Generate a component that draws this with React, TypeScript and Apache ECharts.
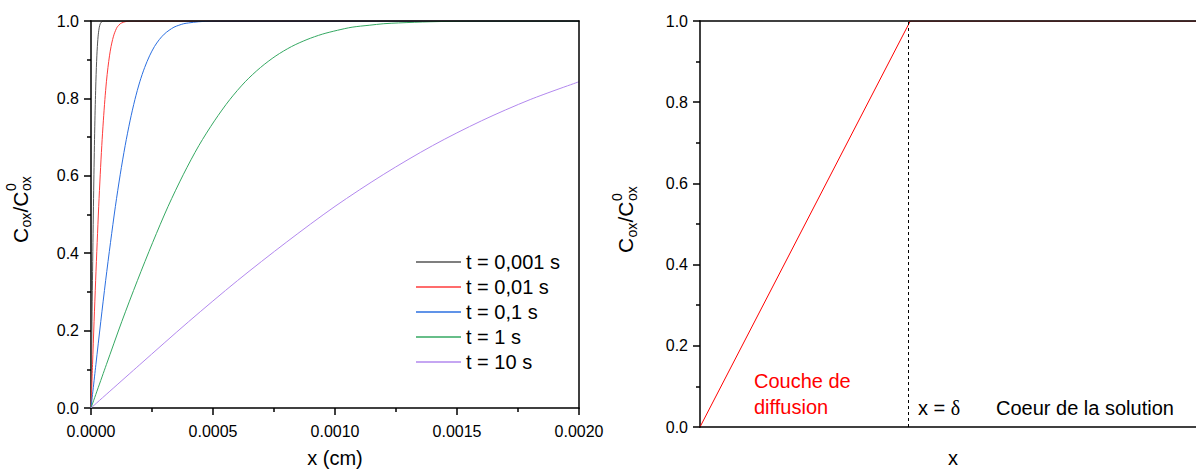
import { useEffect, useRef } from "react";
import * as echarts from "echarts";

const FONT = "'Liberation Sans', Arial, sans-serif";

// ---- Left chart: concentration profiles at several times ----
const legendNames = ["t = 0,001 s", "t = 0,01 s", "t = 0,1 s", "t = 1 s", "t = 10 s"];
const seriesColors = ["#555555", "#ff3b3b", "#2b6fe0", "#35a862", "#b288ee"];

const xT0001 = [0, 0.000002, 0.000004, 0.000006, 0.000008, 0.00001, 0.000012, 0.000014, 0.000016, 0.000018, 0.00002, 0.000022, 0.000024, 0.000026, 0.000028, 0.00003, 0.000032, 0.000034, 0.000036, 0.000038, 0.00004, 0.000044, 0.00005, 0.00006, 0.002];
const yT0001 = [0, 0.112, 0.223, 0.329, 0.428, 0.521, 0.604, 0.678, 0.742, 0.797, 0.843, 0.88, 0.91, 0.934, 0.952, 0.966, 0.976, 0.984, 0.989, 0.993, 0.995, 0.998, 1.0, 1.0, 1.0];

const xT001 = [0, 0.0000063, 0.0000126, 0.000019, 0.0000253, 0.0000316, 0.0000379, 0.0000442, 0.0000506, 0.0000569, 0.0000632, 0.0000695, 0.0000758, 0.0000822, 0.0000885, 0.0000948, 0.000101, 0.000107, 0.000114, 0.00012, 0.000126, 0.000139, 0.000158, 0.00019, 0.002];
const yT001 = [0, 0.112, 0.223, 0.329, 0.428, 0.521, 0.604, 0.678, 0.742, 0.797, 0.843, 0.88, 0.91, 0.934, 0.952, 0.966, 0.976, 0.984, 0.989, 0.993, 0.995, 0.998, 1.0, 1.0, 1.0];

const xT01 = [0, 0.00002, 0.00004, 0.00006, 0.00008, 0.0001, 0.00012, 0.00014, 0.00016, 0.00018, 0.0002, 0.00022, 0.00024, 0.00026, 0.00028, 0.0003, 0.00032, 0.00034, 0.00036, 0.00038, 0.0004, 0.00044, 0.0005, 0.0006, 0.002];
const yT01 = [0, 0.112, 0.223, 0.329, 0.428, 0.521, 0.604, 0.678, 0.742, 0.797, 0.843, 0.88, 0.91, 0.934, 0.952, 0.966, 0.976, 0.984, 0.989, 0.993, 0.995, 0.998, 1.0, 1.0, 1.0];

const xT1 = [0, 0.000063, 0.000126, 0.00019, 0.000253, 0.000316, 0.000379, 0.000442, 0.000506, 0.000569, 0.000632, 0.000695, 0.000758, 0.000822, 0.000885, 0.000948, 0.00101, 0.00107, 0.00114, 0.0012, 0.00126, 0.00139, 0.00158, 0.0019, 0.002];
const yT1 = [0, 0.112, 0.223, 0.329, 0.428, 0.521, 0.604, 0.678, 0.742, 0.797, 0.843, 0.88, 0.91, 0.934, 0.952, 0.966, 0.976, 0.984, 0.989, 0.993, 0.995, 0.998, 1.0, 1.0, 1.0];

const xT10 = [0, 0.0002, 0.0004, 0.0006, 0.0008, 0.001, 0.0012, 0.0014, 0.0016, 0.0018, 0.002];
const yT10 = [0, 0.112, 0.223, 0.329, 0.428, 0.521, 0.604, 0.678, 0.742, 0.797, 0.843];

const leftX = [xT0001, xT001, xT01, xT1, xT10];
const leftY = [yT0001, yT001, yT01, yT1, yT10];

const leftXTicks = { min: 0, max: 0.002, interval: 0.0005 };
const yTicks = { min: 0, max: 1, interval: 0.2 };

// ---- Right chart: Nernst diffusion layer ----
const deltaPos = 0.424;
const rightX = [0, deltaPos, 1];
const rightY = [0, 1, 1];

const axisLineStyle = { color: "#000", width: 1.5 };

function yAxisBase(gridIndex: number) {
  return {
    type: "value" as const,
    gridIndex,
    ...yTicks,
    axisLine: { show: true, onZero: false, lineStyle: axisLineStyle },
    axisTick: { show: true, inside: false, length: 7, lineStyle: axisLineStyle },
    minorTick: { show: true, splitNumber: 2, length: 4, lineStyle: axisLineStyle },
    splitLine: { show: false },
    minorSplitLine: { show: false },
    axisLabel: {
      fontSize: 16,
      fontFamily: FONT,
      color: "#000",
      margin: 12,
      formatter: (v: number) => v.toFixed(1),
    },
  };
}

function frameAxis(gridIndex: number, position: string, min: number, max: number) {
  return {
    type: "value" as const,
    gridIndex,
    position,
    min,
    max,
    z: 10,
    axisLine: { show: true, onZero: false, lineStyle: axisLineStyle },
    axisTick: { show: false },
    axisLabel: { show: false },
    splitLine: { show: false },
  };
}

function titleGroup(x: number, y: number) {
  const main = `21px ${FONT}`;
  const small = `14px ${FONT}`;
  return {
    type: "group",
    x,
    y,
    rotation: Math.PI / 2,
    children: [
      { type: "text", x: 0, y: 0, style: { text: "C", font: main, fill: "#000", verticalAlign: "middle" } },
      { type: "text", x: 15.5, y: 6, style: { text: "ox", font: small, fill: "#000", verticalAlign: "middle" } },
      { type: "text", x: 30.5, y: 0, style: { text: "/", font: main, fill: "#000", verticalAlign: "middle" } },
      { type: "text", x: 36.3, y: 0, style: { text: "C", font: main, fill: "#000", verticalAlign: "middle" } },
      { type: "text", x: 52, y: -9, style: { text: "0", font: small, fill: "#000", verticalAlign: "middle" } },
      { type: "text", x: 52, y: 6, style: { text: "ox", font: small, fill: "#000", verticalAlign: "middle" } },
    ],
  };
}

export default function App() {
  const ref = useRef<HTMLDivElement>(null);

  useEffect(() => {
    if (!ref.current) return;
    const chart = echarts.init(ref.current, null, { renderer: "svg" });

    const leftSeries = legendNames.map((name, i) => ({
      name,
      type: "line",
      xAxisIndex: 0,
      yAxisIndex: 0,
      data: leftX[i].map((x, j) => [x, leftY[i][j]]),
      showSymbol: false,
      symbol: "none",
      smooth: 0.3,
      lineStyle: { color: seriesColors[i], width: 1 },
      itemStyle: { color: seriesColors[i] },
      z: 3,
    }));

    const option: any = {
      animation: false,
      backgroundColor: "#fff",
      textStyle: { fontFamily: FONT },
      grid: [
        { left: 91, top: 21, width: 488, height: 392, containLabel: false },
        { left: 700, top: 21, width: 496, height: 409, containLabel: false },
      ],
      legend: {
        data: legendNames,
        orient: "vertical",
        left: 416,
        top: 252,
        padding: 0,
        icon: "rect",
        itemWidth: 45,
        itemHeight: 1.5,
        itemGap: 5,
        selectedMode: false,
        textStyle: { fontSize: 20, fontFamily: FONT, color: "#000", lineHeight: 20 },
      },
      xAxis: [
        {
          type: "value",
          gridIndex: 0,
          ...leftXTicks,
          axisLine: { show: true, onZero: false, lineStyle: axisLineStyle },
          axisTick: { show: true, inside: false, length: 7, lineStyle: axisLineStyle },
          minorTick: { show: true, splitNumber: 2, length: 4, lineStyle: axisLineStyle },
          splitLine: { show: false },
          minorSplitLine: { show: false },
          axisLabel: {
            fontSize: 16,
            fontFamily: FONT,
            color: "#000",
            margin: 15,
            formatter: (v: number) => v.toFixed(4),
          },
          name: "x (cm)",
          nameLocation: "middle",
          nameGap: 40,
          nameTextStyle: { fontSize: 20, fontFamily: FONT, color: "#000" },
        },
        frameAxis(0, "top", 0, 0.002),
        {
          type: "value",
          gridIndex: 1,
          min: 0,
          max: 1,
          axisLine: { show: true, onZero: false, lineStyle: axisLineStyle },
          axisTick: { show: false },
          axisLabel: { show: false },
          splitLine: { show: false },
          name: "x",
          nameLocation: "middle",
          nameGap: 21,
          nameTextStyle: { fontSize: 20, fontFamily: FONT, color: "#000", padding: [0, 0, 0, 10] },
          z: 10,
        },
        frameAxis(1, "top", 0, 1),
      ],
      yAxis: [
        yAxisBase(0),
        frameAxis(0, "right", 0, 1),
        yAxisBase(1),
      ],
      series: [
        ...leftSeries,
        {
          name: "profil",
          type: "line",
          xAxisIndex: 2,
          yAxisIndex: 2,
          data: rightX.map((x, j) => [x, rightY[j]]),
          showSymbol: false,
          symbol: "none",
          lineStyle: { color: "#ff0000", width: 1 },
          z: 3,
          markLine: {
            silent: true,
            symbol: "none",
            label: { show: false },
            lineStyle: { type: [3, 3], color: "#000", width: 1 },
            data: [{ xAxis: deltaPos }],
          },
        },
      ],
      graphic: [
        titleGroup(20, 243),
        titleGroup(625.5, 253),
        {
          type: "text",
          x: 754,
          y: 381,
          style: { text: "Couche de", font: `20px ${FONT}`, fill: "#ff0000", verticalAlign: "middle" },
        },
        {
          type: "text",
          x: 754,
          y: 407,
          style: { text: "diffusion", font: `20px ${FONT}`, fill: "#ff0000", verticalAlign: "middle" },
        },
        {
          type: "text",
          x: 918,
          y: 408,
          style: {
            text: "x = {d|δ}",
            font: `20px ${FONT}`,
            fill: "#000",
            verticalAlign: "middle",
            rich: { d: { fontFamily: "'Liberation Serif', 'DejaVu Serif', serif", fontSize: 20, fill: "#000" } },
          },
        },
        {
          type: "text",
          x: 996,
          y: 408,
          style: { text: "Coeur de la solution", font: `20px ${FONT}`, fill: "#000", verticalAlign: "middle" },
        },
      ],
    };

    chart.setOption(option);
    return () => chart.dispose();
  }, []);

  return (
    <div
      ref={ref}
      style={{ position: "absolute", left: 0, top: 0, width: 1196, height: 473, background: "#fff" }}
    />
  );
}
